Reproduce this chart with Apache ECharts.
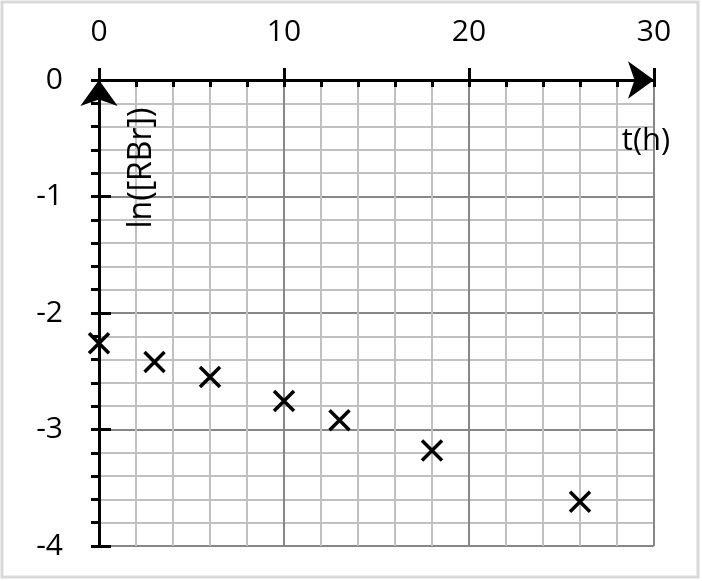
<!DOCTYPE html>
<html>
<head>
<meta charset="utf-8">
<script src="https://cdn.jsdelivr.net/npm/echarts@6/dist/echarts.min.js"></script>
<style>
html,body{margin:0;padding:0;background:#fff;}
#chart{width:702px;height:581px;}
</style>
</head>
<body>
<div id="chart"></div>
<script>
// Data
var tHours = [0, 3, 6, 10, 13, 18, 26];
var lnRBr = [-2.26, -2.42, -2.55, -2.755, -2.92, -3.18, -3.62];
var xAxisTitle = 't(h)';
var yAxisTitle = 'ln([RBr])';
var xRange = [0, 30];
var yRange = [-4, 0];

var points = tHours.map(function (t, i) { return [t, lnRBr[i]]; });
var FONT = '"Open Sans", sans-serif';
var chart = echarts.init(document.getElementById('chart'), null, {renderer: 'canvas'});

var option = {
  backgroundColor: '#ffffff',
  animation: false,
  grid: {left: 99, top: 80, width: 555, height: 466, containLabel: false},
  xAxis: [
    {
      type: 'value', position: 'top', min: xRange[0], max: xRange[1], interval: 10,
      axisLine: {show: true, onZero: true, lineStyle: {color: '#000', width: 3},
        symbol: ['none', 'arrow'], symbolSize: [28, 26], symbolOffset: [0, 0]},
      axisTick: {show: true, inside: false, length: 12, lineStyle: {color: '#000', width: 3}},
      minorTick: {show: false},
      axisLabel: {show: true, margin: 33, color: '#000', fontSize: 30, fontFamily: FONT},
      splitLine: {show: true, lineStyle: {color: '#878787', width: 2}},
      minorSplitLine: {show: true, lineStyle: {color: '#c0c0c0', width: 2}},
      z: 5
    },
    {
      type: 'value', position: 'top', min: xRange[0], max: xRange[1], interval: 10,
      axisLine: {show: false},
      axisTick: {show: true, inside: true, length: 7, lineStyle: {color: '#000', width: 3}},
      minorTick: {show: true, splitNumber: 5, length: 7, lineStyle: {color: '#000', width: 3}},
      axisLabel: {show: false},
      splitLine: {show: false},
      z: 5
    }
  ],
  yAxis: [
    {
      type: 'value', position: 'left', min: yRange[0], max: yRange[1], interval: 1,
      axisLine: {show: true, onZero: true, lineStyle: {color: '#000', width: 3},
        symbol: ['none', 'arrow'], symbolSize: [28, 26], symbolOffset: [0, 0]},
      axisTick: {show: true, inside: false, length: 8, lineStyle: {color: '#000', width: 3}},
      minorTick: {show: true, splitNumber: 5, length: 8, lineStyle: {color: '#000', width: 3}},
      axisLabel: {show: true, margin: 36, color: '#000', fontSize: 30, fontFamily: FONT},
      splitLine: {show: true, lineStyle: {color: '#878787', width: 2}},
      minorSplitLine: {show: true, lineStyle: {color: '#c0c0c0', width: 2}},
      z: 5
    },
    {
      type: 'value', position: 'left', min: yRange[0], max: yRange[1], interval: 1,
      axisLine: {show: false},
      axisTick: {show: true, inside: true, length: 12, lineStyle: {color: '#000', width: 3}},
      minorTick: {show: false},
      axisLabel: {show: false},
      splitLine: {show: false},
      z: 5
    }
  ],
  series: [
    {
      type: 'scatter', xAxisIndex: 0, yAxisIndex: 0,
      data: points,
      symbol: 'path://M0,0L10,10M10,0L0,10',
      symbolSize: 20,
      itemStyle: {color: 'transparent', borderColor: '#000', borderWidth: 3.5, opacity: 1},
      emphasis: {disabled: true},
      z: 10
    }
  ],
  graphic: [
    {
      type: 'rect', silent: true, z: -1,
      shape: {x: 2, y: 2, width: 696, height: 575},
      style: {fill: 'none', stroke: '#d9d9d9', lineWidth: 3}
    },
    {
      type: 'text', x: 646, y: 141, z: 20,
      style: {text: xAxisTitle, fontSize: 31, fontFamily: FONT, fill: '#000', align: 'center', verticalAlign: 'middle'}
    },
    {
      type: 'text', x: 142, y: 168, rotation: Math.PI / 2, z: 20,
      style: {text: yAxisTitle, fontSize: 32, fontFamily: FONT, fill: '#000', align: 'center', verticalAlign: 'middle'}
    }
  ]
};
chart.setOption(option);
</script>
</body>
</html>
